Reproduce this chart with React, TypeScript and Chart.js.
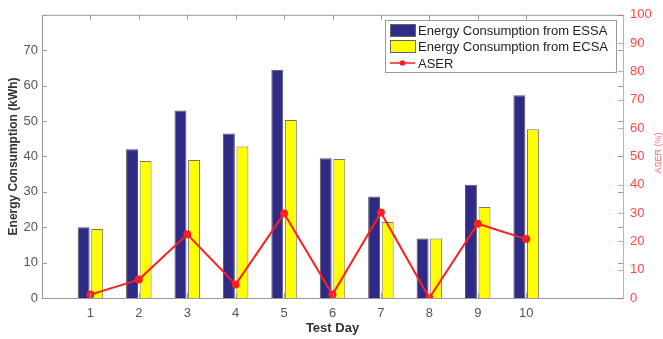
import React, { useEffect, useRef } from 'react';
import { Chart, registerables } from 'chart.js';
Chart.register(...registerables);

const dayLabels = ['1', '2', '3', '4', '5', '6', '7', '8', '9', '10'];
const essa = [20, 42, 53, 46.5, 64.5, 39.5, 28.7, 16.8, 32, 57.3];
const ecsa = [19.5, 38.7, 39, 42.8, 50.3, 39.3, 21.5, 16.8, 25.7, 47.7];
const aser = [1.2, 6.5, 22.5, 4.8, 29.8, 1.2, 30.2, 0, 26.2, 20.8];
const leftTicks = [0, 10, 20, 30, 40, 50, 60, 70];
const rightTicks = [0, 10, 20, 30, 40, 50, 60, 70, 80, 90, 100];

const NAVY = 'rgb(46,42,134)';
const YELLOW = 'rgb(255,255,0)';
const RED = 'rgb(255,30,30)';
const FONT = '"Liberation Sans", Arial, sans-serif';

const labels = ['', ...dayLabels, '', ''];
const pad = (a: number[]) => [null, ...a, null, null];

const framePlugin = {
  id: 'frame',
  afterDraw(chart: any) {
    const ctx = chart.ctx;
    const { left, right, top, bottom } = chart.chartArea;
    const x = chart.scales.x;
    const y = chart.scales.y;
    const y1 = chart.scales.y1;
    ctx.save();
    ctx.lineWidth = 1;
    // box
    ctx.strokeStyle = '#9a9a9a';
    ctx.beginPath();
    ctx.moveTo(right, top + 0.5);
    ctx.lineTo(left + 0.5, top + 0.5);
    ctx.lineTo(left + 0.5, bottom + 0.5);
    ctx.lineTo(right, bottom + 0.5);
    ctx.stroke();
    // left ticks (mirrored on right)
    ctx.beginPath();
    for (let v = 0; v <= 80; v += 10) {
      const py = Math.round(y.getPixelForValue(v)) + 0.5;
      ctx.moveTo(left, py); ctx.lineTo(left + 5, py);
      ctx.moveTo(right, py); ctx.lineTo(right - 5, py);
    }
    for (let i = 1; i <= dayLabels.length; i++) {
      const px = Math.round(x.getPixelForValue(i)) + 0.5;
      ctx.moveTo(px, bottom); ctx.lineTo(px, bottom - 5);
      ctx.moveTo(px, top); ctx.lineTo(px, top + 5);
    }
    ctx.stroke();
    // right axis in red
    ctx.strokeStyle = 'rgba(255,80,80,0.6)';
    ctx.beginPath();
    ctx.moveTo(right + 0.5, top);
    ctx.lineTo(right + 0.5, bottom + 1);
    for (const v of rightTicks) {
      const py = Math.round(y1.getPixelForValue(v)) + 0.5;
      ctx.moveTo(right, py); ctx.lineTo(right - 5, py);
    }
    ctx.stroke();

    // axis titles
    ctx.fillStyle = '#333';
    ctx.font = 'bold 13px ' + FONT;
    ctx.textAlign = 'center';
    ctx.textBaseline = 'middle';
    ctx.fillText('Test Day', (left + right) / 2, 328);
    ctx.save();
    ctx.translate(14, (top + bottom) / 2);
    ctx.rotate(-Math.PI / 2);
    ctx.font = 'bold 12px ' + FONT;
    ctx.fillText('Energy Consumption (kWh)', 0, 0);
    ctx.restore();
    ctx.save();
    ctx.translate(659, 153);
    ctx.rotate(-Math.PI / 2);
    ctx.fillStyle = 'rgba(255,60,60,0.8)';
    ctx.font = '9px ' + FONT;
    ctx.fillText('ASER (%)', 0, 0);
    ctx.restore();

    // legend box
    const lx = 385, ly = 20, lw = 231, lh = 52;
    ctx.fillStyle = '#fff';
    ctx.fillRect(lx, ly, lw, lh);
    ctx.strokeStyle = '#9a9a9a';
    ctx.strokeRect(lx + 0.5, ly + 0.5, lw, lh);
    const items = chart.data.datasets.map((d: any) => d.label);
    const rows = [30, 46, 63];
    ctx.font = '13px ' + FONT;
    ctx.textAlign = 'left';
    ctx.textBaseline = 'middle';
    items.forEach((lab: string, i: number) => {
      const cy = rows[i];
      if (i < 2) {
        ctx.fillStyle = i === 0 ? NAVY : YELLOW;
        ctx.fillRect(390, cy - 6, 25, 12);
        ctx.strokeStyle = '#666';
        ctx.strokeRect(390.5, cy - 5.5, 25, 12);
      } else {
        ctx.strokeStyle = RED;
        ctx.lineWidth = 1.5;
        ctx.beginPath();
        ctx.moveTo(390, cy); ctx.lineTo(415, cy);
        ctx.stroke();
        ctx.fillStyle = RED;
        ctx.beginPath();
        ctx.arc(402.5, cy, 2.8, 0, Math.PI * 2);
        ctx.fill();
        ctx.lineWidth = 1;
      }
      ctx.fillStyle = '#222';
      ctx.fillText(lab, 418, cy + 1);
    });
    ctx.restore();
  },
};

export default function App() {
  const ref = useRef<HTMLCanvasElement>(null);
  useEffect(() => {
    if (!ref.current) return;
    const chart = new Chart(ref.current, {
      type: 'bar',
      data: {
        labels,
        datasets: [
          {
            type: 'bar',
            label: 'Energy Consumption from ESSA',
            data: pad(essa) as any,
            backgroundColor: NAVY,
            borderColor: '#555',
            borderWidth: 1,
            categoryPercentage: 0.56,
            barPercentage: 0.88,
            yAxisID: 'y',
            order: 1,
          },
          {
            type: 'bar',
            label: 'Energy Consumption from ECSA',
            data: pad(ecsa) as any,
            backgroundColor: YELLOW,
            borderColor: '#777',
            borderWidth: 1,
            categoryPercentage: 0.56,
            barPercentage: 0.88,
            yAxisID: 'y',
            order: 1,
          },
          {
            type: 'line',
            label: 'ASER',
            data: pad(aser) as any,
            borderColor: RED,
            backgroundColor: RED,
            borderWidth: 2,
            pointRadius: 3,
            pointBackgroundColor: RED,
            pointBorderColor: RED,
            yAxisID: 'y1',
            order: 0,
          } as any,
        ],
      },
      options: {
        animation: false,
        responsive: false,
        maintainAspectRatio: false,
        layout: { padding: { top: 10, left: 0, right: 0, bottom: 0 } },
        plugins: { legend: { display: false }, tooltip: { enabled: false } },
        scales: {
          x: {
            offset: false,
            grid: { display: false, drawTicks: false },
            border: { display: false },
            ticks: {
              color: '#555',
              font: { size: 13, family: FONT },
              padding: 8,
              autoSkip: false,
              maxRotation: 0,
              callback: (v: any, i: number) => labels[i],
            },
            afterFit: (s: any) => { s.height = 41; },
          },
          y: {
            position: 'left',
            min: 0,
            max: 80,
            grid: { display: false, drawTicks: false },
            border: { display: false },
            ticks: {
              stepSize: 10,
              color: '#555',
              font: { size: 13, family: FONT },
              padding: 4,
              callback: (v: any) => (leftTicks.includes(v) ? String(v) : ''),
            },
            afterFit: (s: any) => { s.width = 42; },
          },
          y1: {
            position: 'right',
            min: 0,
            max: 100,
            grid: { display: false, drawTicks: false },
            border: { display: false },
            ticks: {
              stepSize: 10,
              color: 'rgb(255,70,70)',
              font: { size: 13, family: FONT },
              padding: 7,
              callback: (v: any) => (rightTicks.includes(v) ? String(v) : ''),
            },
            afterFit: (s: any) => { s.width = 40; },
          },
        },
      },
      plugins: [framePlugin],
    });
    return () => chart.destroy();
  }, []);
  return (
    <div style={{ position: 'fixed', left: 0, top: 0, width: 663, height: 339, background: '#fff' }}>
      <canvas ref={ref} width={663} height={339} style={{ width: 663, height: 339 }} />
    </div>
  );
}
